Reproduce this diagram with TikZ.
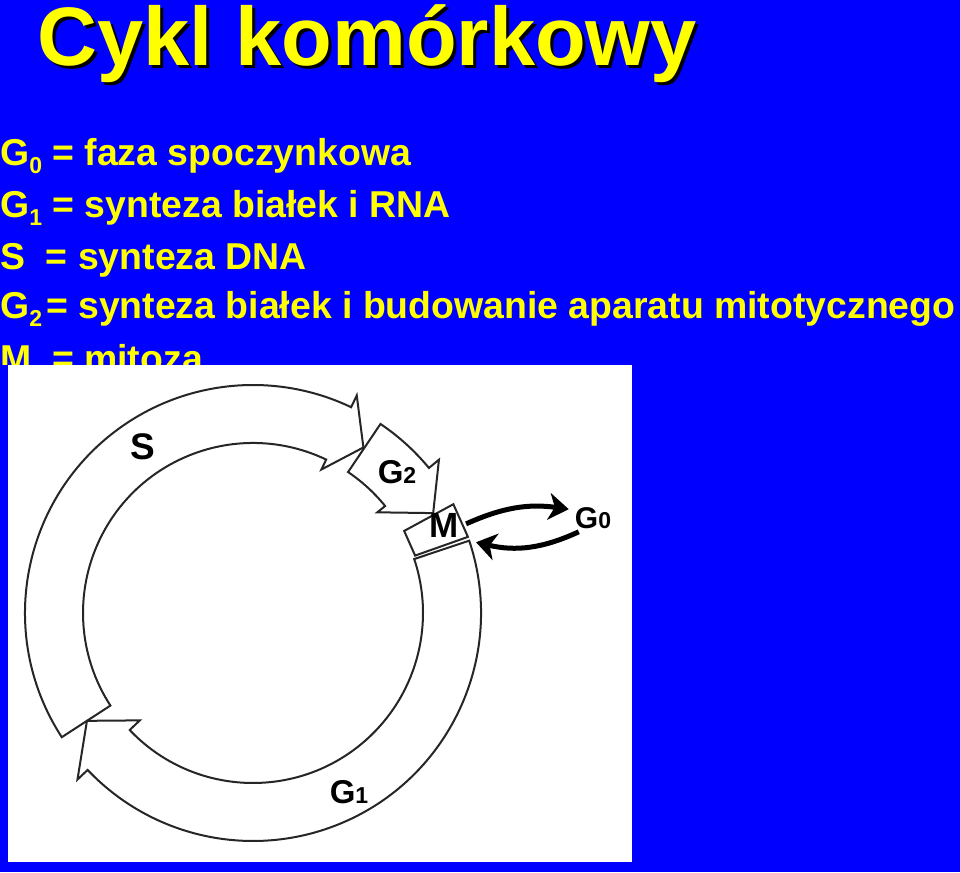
\documentclass[tikz,border=0pt]{standalone}
\usepackage{fontspec}
\setmainfont{Liberation Sans}
\usetikzlibrary{arrows.meta}
\definecolor{slideblue}{RGB}{0,0,255}
\definecolor{slideyellow}{RGB}{255,255,0}
\newcommand{\lowdigit}[1]{\raisebox{-8pt}{\fontsize{23}{23}\selectfont #1}}
\newcommand{\phasename}[2]{#1{\fontsize{23}{23}\selectfont #2}}

\tikzset{
  keyline/.style={anchor=base west, inner sep=0pt, text=slideyellow,
    font=\bfseries\fontsize{37.4}{40}\selectfont},
  titletext/.style={anchor=base west, inner sep=0pt,
    font=\bfseries\fontsize{83}{90}\selectfont},
  ring/.style={draw=black!85, line width=2pt, fill=white, line join=miter},
  phaselbl/.style={inner sep=1pt, font=\bfseries\fontsize{33}{33}\selectfont},
  g0arrow/.style={line width=5pt, -{Stealth[length=20pt,width=27pt,inset=6pt]}},
}

\begin{document}
\begin{tikzpicture}[x=1pt,y=1pt]
  \useasboundingbox (0,0) rectangle (960,872);
  \fill[slideblue] (0,0) rectangle (960,872);

  % title
  \node[titletext, text=black] (titleshadow) at (40,803) {Cykl komórkowy};
  \node[titletext, text=slideyellow] (title) at (37,806) {Cykl komórkowy};

  % key
  \node[keyline] (keyg0) at (0,706) {G\lowdigit{0} = faza spoczynkowa};
  \node[keyline] (keyg1) at (0,654) {G\lowdigit{1} = synteza białek i RNA};
  \node[keyline] (keys) at (0,602) {S\ \ = synteza DNA};
  \node[keyline] (keyg2) at (0,553) {G\lowdigit{2}\hspace{4pt}= synteza białek i budowanie aparatu mitotycznego};
  \begin{scope}
    \clip (0,507) rectangle (960,560);
    \node[keyline] (keym) at (0,500) {M\ \ = mitoza};
  \end{scope}

  % picture
  \fill[white] (8,10) rectangle (632,507);
  \begin{scope}[shift={(253,259)}]
    % S
    \draw[ring] (213:228) arc[start angle=213, end angle=64.5, radius=228pt]
      -- (64.5:241) -- (56.3:199) -- (64.5:159) -- (64.5:170)
      arc[start angle=64.5, end angle=213, radius=170pt] -- cycle;
    % G2
    \draw[ring] (56:228) arc[start angle=56, end angle=39.5, radius=228pt]
      -- (39.5:241) -- (29:206) -- (39:160) -- (39:170)
      arc[start angle=39, end angle=56, radius=170pt] -- cycle;
    % M
    \draw[ring] (28.5:172) -- (28.5:228) -- (19.5:228) -- (19.5:172) -- cycle;
    % G1
    \draw[ring] (18.5:228) arc[start angle=18.5, end angle=-136.5, radius=228pt]
      -- (-136.5:242) -- (-147:198) -- (-136.5:156) -- (-136.5:170)
      arc[start angle=-136.5, end angle=18.5, radius=170pt] -- cycle;
    \coordinate (mup) at (22.7:231);
    \coordinate (mlow) at (17.6:234);
  \end{scope}

  \node[phaselbl, font=\bfseries\fontsize{37}{37}\selectfont] (slbl) at (143,425) {S};
  \node[phaselbl] (g2lbl) at (397,400) {\phasename{G}{2}};
  \node[phaselbl] (g1lbl) at (349,80) {\phasename{G}{1}};
  \node[phaselbl, font=\bfseries\fontsize{35}{35}\selectfont] (mlbl) at (444,347) {M};
  \node[phaselbl, font=\bfseries\fontsize{30}{30}\selectfont] (g0lbl) at (593,354)
    {G{\fontsize{23}{23}\selectfont 0}};

  \draw[g0arrow] (mup) to[bend left=16] ([xshift=-5pt,yshift=-3pt]g0lbl.north west);
  \draw[g0arrow] ([xshift=5pt,yshift=-2pt]g0lbl.south west) to[bend left=19] (mlow);
\end{tikzpicture}
\end{document}
